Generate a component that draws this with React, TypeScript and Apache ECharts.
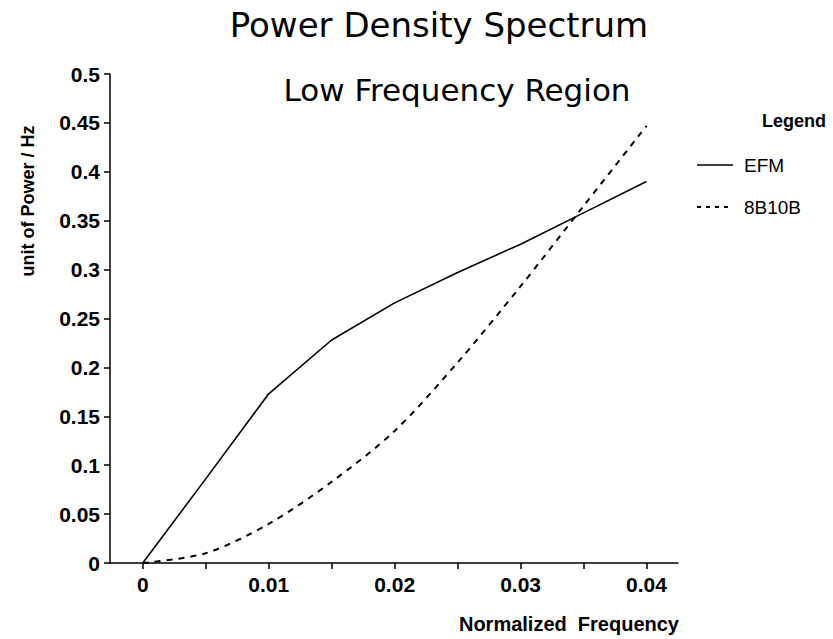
import React, { useEffect, useRef } from "react";
import * as echarts from "echarts";

const freq = [0, 0.005, 0.01, 0.015, 0.02, 0.025, 0.03, 0.035, 0.04];
const efm = [0, 0.086, 0.173, 0.228, 0.266, 0.297, 0.326, 0.358, 0.39];
const b8b10 = [0, 0.01, 0.04, 0.083, 0.135, 0.205, 0.283, 0.365, 0.447];
const xTicks = [0, 0.005, 0.01, 0.015, 0.02, 0.025, 0.03, 0.035, 0.04];
const xLabels = [0, 0.01, 0.02, 0.03, 0.04];
const seriesNames = ["EFM", "8B10B"];

export default function App() {
  const ref = useRef<HTMLDivElement>(null);
  useEffect(() => {
    if (!ref.current) return;
    const chart = echarts.init(ref.current, null, { renderer: "svg" });
    const lab = { fontFamily: "Liberation Sans", fontWeight: "bold", fontSize: 21, color: "#000" };
    const legendText = { fontFamily: "Liberation Sans", fontSize: 19, fill: "#000", textAlign: "left", textVerticalAlign: "middle" };
    chart.setOption({
      animation: false,
      backgroundColor: "#fff",
      grid: { left: 110, right: 155, top: 74, bottom: 76 },
      xAxis: {
        type: "value",
        min: -0.0026,
        max: 0.0425,
        splitLine: { show: false },
        axisLine: { onZero: false, lineStyle: { color: "#000", width: 1.5 } },
        axisTick: { show: true, length: 6, customValues: xTicks, lineStyle: { color: "#000", width: 1.5 } },
        axisLabel: { ...lab, margin: 11, customValues: xLabels, formatter: (v: number) => String(v) },
      },
      yAxis: {
        type: "value",
        min: 0,
        max: 0.5,
        interval: 0.05,
        splitLine: { show: false },
        axisLine: { show: true, onZero: false, lineStyle: { color: "#000", width: 1.5 } },
        axisTick: { show: true, length: 6, lineStyle: { color: "#000", width: 1.5 } },
        axisLabel: { ...lab, margin: 10, formatter: (v: number) => String(Math.round(v * 100) / 100) },
      },
      series: [
        {
          name: seriesNames[0],
          type: "line",
          showSymbol: false,
          symbol: "none",
          data: freq.map((f, i) => [f, efm[i]]),
          lineStyle: { color: "#000", width: 1.6, type: "solid" },
        },
        {
          name: seriesNames[1],
          type: "line",
          showSymbol: false,
          symbol: "none",
          smooth: 0.3,
          data: freq.map((f, i) => [f, b8b10[i]]),
          lineStyle: { color: "#000", width: 2, type: [6, 6] },
        },
      ],
      graphic: [
        {
          type: "text",
          x: 439,
          y: 25,
          style: { text: "Power Density Spectrum", fontFamily: "DejaVu Sans", fontSize: 34, fill: "#000", textAlign: "center", textVerticalAlign: "middle" },
        },
        {
          type: "text",
          x: 457,
          y: 90,
          style: { text: "Low Frequency Region", fontFamily: "DejaVu Sans", fontSize: 31, fill: "#000", textAlign: "center", textVerticalAlign: "middle" },
        },
        {
          type: "text",
          x: 28,
          y: 201,
          rotation: Math.PI / 2,
          style: { text: "unit of Power / Hz", fontFamily: "Liberation Sans", fontWeight: "bold", fontSize: 18, fill: "#000", textAlign: "center", textVerticalAlign: "middle" },
        },
        {
          type: "text",
          x: 679,
          y: 624,
          style: { text: "Normalized  Frequency", fontFamily: "Liberation Sans", fontWeight: "bold", fontSize: 20, fill: "#000", textAlign: "right", textVerticalAlign: "middle" },
        },
        {
          type: "text",
          x: 762,
          y: 121,
          style: { text: "Legend", fontFamily: "Liberation Sans", fontWeight: "bold", fontSize: 18, fill: "#000", textAlign: "left", textVerticalAlign: "middle" },
        },
        {
          type: "line",
          shape: { x1: 697, y1: 165, x2: 733, y2: 165 },
          style: { stroke: "#000", lineWidth: 1.5 },
        },
        { type: "text", x: 744, y: 165, style: { ...legendText, text: seriesNames[0] } },
        {
          type: "line",
          shape: { x1: 697, y1: 207, x2: 733, y2: 207 },
          style: { stroke: "#000", lineWidth: 1.8, lineDash: [4, 5] },
        },
        { type: "text", x: 744, y: 207, style: { ...legendText, text: seriesNames[1] } },
      ],
    });
    return () => chart.dispose();
  }, []);
  return <div ref={ref} style={{ width: 833, height: 639, position: "absolute", left: 0, top: 0 }} />;
}
